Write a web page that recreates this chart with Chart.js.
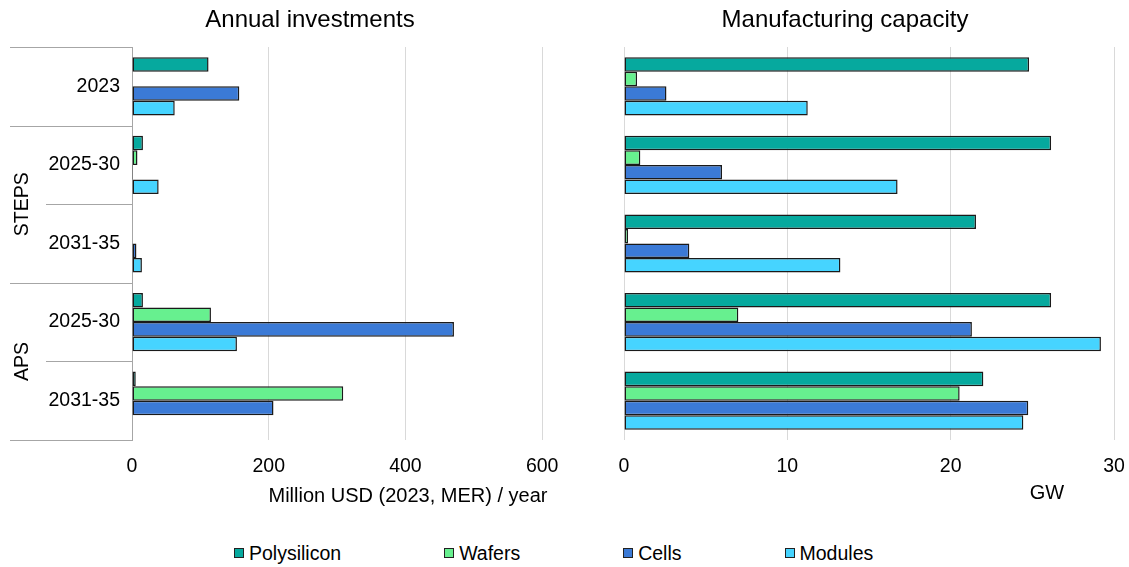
<!DOCTYPE html>
<html>
<head>
<meta charset="utf-8">
<title>Solar PV supply chain</title>
<script src="https://cdn.jsdelivr.net/npm/chart.js@4.4.1/dist/chart.umd.min.js"></script>
<style>
  body {
    margin: 0;
    width: 1129px;
    height: 567px;
    overflow: hidden;
    position: relative;
    background: #fff;
    font-family: "Liberation Sans", Arial, sans-serif;
  }
  #investWrap { position: absolute; left: 0; top: 0; }
  #capacityWrap { position: absolute; left: 561px; top: 0; }
  .legend {
    position: absolute;
    left: 234px;
    top: 541px;
    display: flex;
    gap: 103px;
    font-size: 19.5px;
    line-height: 24px;
    color: #000;
  }
  .legend .item { display: flex; align-items: center; white-space: nowrap; }
  .legend .box {
    display: inline-block;
    width: 10px;
    height: 10px;
    box-sizing: border-box;
    border: 1px solid #222;
    margin-right: 5px;
  }
</style>
</head>
<body>
<div id="investWrap"><canvas id="investChart" width="620" height="520"></canvas></div>
<div id="capacityWrap"><canvas id="capacityChart" width="568" height="520"></canvas></div>
<div class="legend" id="legend"></div>

<script>
/* ===== data ===== */
const categories = ['2023', '2025-30', '2031-35', '2025-30', '2031-35'];
const categoryGroups = [
    { label: '', from: 0, to: 0 },
    { label: 'STEPS', from: 1, to: 2 },
    { label: 'APS', from: 3, to: 4 }
];
const seriesNames = ['Polysilicon', 'Wafers', 'Cells', 'Modules'];

// Annual investments - Million USD (2023, MER) / year
const investPolysilicon = [112, 16, 0, 16, 5.5];
const investWafers = [0, 8, 0, 115.5, 309];
const investCells = [157, 1.5, 6.5, 471, 207];
const investModules = [62.5, 39, 14.5, 153.5, 0];
const investTicks = [0, 200, 400, 600];

// Manufacturing capacity - GW
const capPolysilicon = [24.8, 26.15, 21.55, 26.15, 22.0];
const capWafers = [0.8, 1.0, 0.25, 7.0, 20.55];
const capCells = [2.6, 6.0, 4.0, 21.3, 24.75];
const capModules = [11.25, 16.75, 13.25, 29.2, 24.45];
const capTicks = [0, 10, 20, 30];

/* ===== styles ===== */
const seriesColors = ['#06a99e', '#67f08f', '#3b7ad6', '#46d4ff'];
const FONT = '"Liberation Sans", Arial, sans-serif';
Chart.defaults.font.family = FONT;
Chart.defaults.color = '#000';

function makeDatasets(seriesValues) {
    return seriesValues.map((values, i) => ({
        label: seriesNames[i],
        data: values,
        backgroundColor: seriesColors[i],
        borderColor: '#1a1a1a',
        borderWidth: 1.5,
        borderSkipped: false,
        categoryPercentage: 0.74,
        barPercentage: 1
    }));
}

// 왼쪽 범주 구분선 + STEPS / APS 그룹 라벨
const categoryFrame = {
    id: 'categoryFrame',
    afterDraw(chart) {
        const { ctx, chartArea } = chart;
        const y = chart.scales.y;
        const n = categories.length;
        const edge = i => i === 0 ? chartArea.top
            : i === n ? chartArea.bottom
            : (y.getPixelForValue(i - 1) + y.getPixelForValue(i)) / 2;

        ctx.save();
        ctx.strokeStyle = '#a6a6a6';
        ctx.lineWidth = 1;
        for (let i = 0; i <= n; i++) {
            const outer = categoryGroups.some(g => g.from === i || g.to + 1 === i);
            const yy = Math.round(edge(i)) + 0.5;
            ctx.beginPath();
            ctx.moveTo(outer ? 10 : 46, yy);
            ctx.lineTo(chartArea.left, yy);
            ctx.stroke();
        }
        ctx.fillStyle = '#000';
        ctx.font = '19.5px ' + FONT;
        ctx.textAlign = 'center';
        ctx.textBaseline = 'middle';
        categoryGroups.forEach(g => {
            if (!g.label) return;
            const mid = (edge(g.from) + edge(g.to + 1)) / 2;
            ctx.save();
            ctx.translate(23, mid);
            ctx.rotate(-Math.PI / 2);
            ctx.fillText(g.label, 0, 0);
            ctx.restore();
        });
        ctx.restore();
    }
};

// 축 제목 (위치 지정)
const axisCaption = {
    id: 'axisCaption',
    afterDraw(chart, args, opts) {
        const ctx = chart.ctx;
        ctx.save();
        ctx.font = '20px ' + FONT;
        ctx.fillStyle = '#000';
        ctx.textAlign = 'center';
        ctx.textBaseline = 'middle';
        ctx.fillText(opts.text, opts.x, opts.y);
        ctx.restore();
    }
};

function baseOptions(titleText, padding, xMax, xTicks, caption) {
    return {
        indexAxis: 'y',
        responsive: false,
        animation: false,
        devicePixelRatio: 1,
        layout: { padding: padding },
        plugins: {
            legend: { display: false },
            tooltip: { enabled: false },
            title: {
                display: true,
                text: titleText,
                color: '#000',
                font: { size: 24, weight: 'normal' },
                padding: { top: 6, bottom: 12.2 }
            },
            axisCaption: caption
        },
        scales: {
            x: {
                min: 0,
                max: xMax,
                afterBuildTicks: s => { s.ticks = xTicks.map(v => ({ value: v })); },
                afterFit: s => { s.height = 40; },
                grid: { color: '#d9d9d9', lineWidth: 1, tickLength: 12, tickColor: 'rgba(0,0,0,0)' },
                border: { display: false },
                ticks: { color: '#000', font: { size: 19.5 }, padding: 3, maxRotation: 0 }
            },
            y: {}
        }
    };
}

/* ===== Annual investments ===== */
const investOptions = baseOptions('Annual investments',
    { left: 30, right: 30, top: 0, bottom: 40 }, 670, investTicks,
    { text: 'Million USD (2023, MER) / year', x: 408, y: 496 });
investOptions.scales.y = {
    grid: { display: false, drawTicks: false },
    border: { display: true, color: '#a6a6a6', width: 1 },
    ticks: { color: '#000', font: { size: 19.5 }, padding: 12 },
    afterFit: s => { s.width = 102; }
};

new Chart(document.getElementById('investChart'), {
    type: 'bar',
    data: {
        labels: categories,
        datasets: makeDatasets([investPolysilicon, investWafers, investCells, investModules])
    },
    options: investOptions,
    plugins: [categoryFrame, axisCaption]
});

/* ===== Manufacturing capacity ===== */
const capOptions = baseOptions('Manufacturing capacity',
    { left: 15, right: 15, top: 0, bottom: 40 }, 30, capTicks,
    { text: 'GW', x: 486, y: 493 });
capOptions.scales.y = {
    grid: { display: false, drawTicks: false },
    border: { display: false },
    ticks: { display: false },
    afterFit: s => { s.width = 48; }
};

new Chart(document.getElementById('capacityChart'), {
    type: 'bar',
    data: {
        labels: categories,
        datasets: makeDatasets([capPolysilicon, capWafers, capCells, capModules])
    },
    options: capOptions,
    plugins: [axisCaption]
});

/* ===== legend ===== */
const legendEl = document.getElementById('legend');
seriesNames.forEach((name, i) => {
    const item = document.createElement('div');
    item.className = 'item';
    const box = document.createElement('span');
    box.className = 'box';
    box.style.background = seriesColors[i];
    item.appendChild(box);
    item.appendChild(document.createTextNode(name));
    legendEl.appendChild(item);
});
</script>
</body>
</html>
